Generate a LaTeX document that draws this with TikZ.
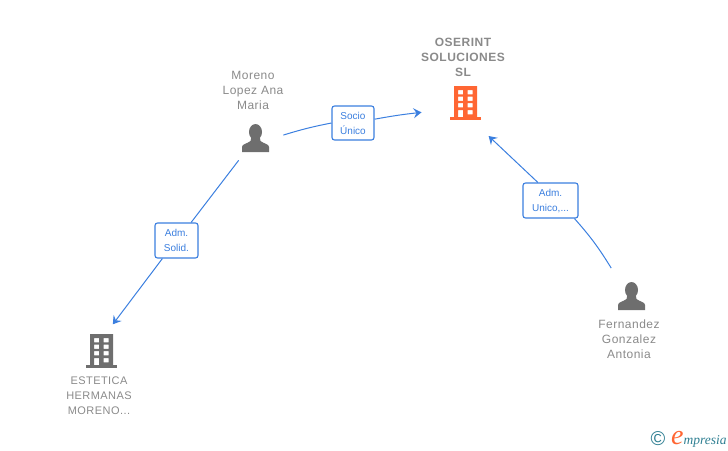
\documentclass[tikz,border=0pt]{standalone}
\usepackage{fontspec}
\setmainfont{Liberation Sans}
\newfontfamily\namefont[LetterSpace=4]{Liberation Sans}
\newfontfamily\logofont{Liberation Serif}
\usetikzlibrary{arrows.meta}
\definecolor{linkblue}{HTML}{3B7FDF}
\definecolor{nametext}{HTML}{8A8A8A}
\definecolor{icongrey}{HTML}{6E6E6E}
\definecolor{mainorange}{HTML}{FF6633}
\definecolor{logoteal}{HTML}{2F7F92}
\tikzset{
	iconbox/.style={circle,minimum size=#1,inner sep=0pt,outer sep=0pt},
	personname/.style={align=center,text=nametext,font=\namefont\fontsize{12}{15}\selectfont},
	firmname/.style={align=center,text=nametext,font=\namefont\fontsize{11}{15}\selectfont},
	mainname/.style={align=center,text=nametext,font=\namefont\bfseries\fontsize{12}{15}\selectfont},
	linkbox/.style={align=center,rectangle,rounded corners=2.5pt,draw=linkblue,line width=1.1pt,fill=white,text=linkblue,inner sep=0pt,font=\fontsize{10}{15}\selectfont},
	link/.style={draw=linkblue,line width=1pt},
	linkarrow/.style={link,-{Stealth[length=8pt,width=10pt,inset=3pt]}},
	personicon/.pic={
		\fill (0,-6) ellipse (6.5 and 8);
		\fill (-13.5,14) -- (-13.5,9) .. controls (-13.5,6) and (-8,5.5) .. (-5,3) -- (-4,-2) -- (4,-2) -- (5,3) .. controls (8,5.5) and (13.5,6) .. (13.5,9) -- (13.5,14) -- cycle;
	},
	buildingicon/.pic={
		\fill[even odd rule] (-11.5,-17) rectangle (11.5,15)
			(-7.5,-13) rectangle (-2.5,-8.7) (2,-13) rectangle (7,-8.7)
			(-7.5,-6.5) rectangle (-2.5,-2.2) (2,-6.5) rectangle (7,-2.2)
			(-7.5,0) rectangle (-2.5,4.3) (2,0) rectangle (7,4.3)
			(-7.5,7) rectangle (-2.5,15) (2,7) rectangle (7,11.3);
		\fill (-15.5,14.4) rectangle (15.5,17);
	}
}
\begin{document}
\begin{tikzpicture}[x=1pt,y=-1pt]
	\useasboundingbox (0,0) rectangle (728,450);
	% icons
	\node (morenoicon)[iconbox=56] at (255.5,138) {};
	\node (oserinticon)[rectangle,minimum width=88pt,minimum height=66pt,inner sep=0pt,outer sep=0pt] at (465.5,103) {};
	\node (esteticaicon)[iconbox=58] at (101.5,351) {};
	\node (fernandezicon)[iconbox=69] at (631.5,296) {};
	\pic[icongrey] at (morenoicon) {personicon};
	\pic[icongrey] at (fernandezicon) {personicon};
	\pic[mainorange] at (oserinticon) {buildingicon};
	\pic[icongrey] at (esteticaicon) {buildingicon};
	% names
	\node (morenoname)[personname] at (253,90) {Moreno\\Lopez Ana\\Maria};
	\node (oserintname)[mainname] at (463,57) {OSERINT\\SOLUCIONES\\SL};
	\node (esteticaname)[firmname] at (99,395.5) {ESTETICA\\HERMANAS\\MORENO...};
	\node (fernandezname)[personname] at (629,339) {Fernandez\\Gonzalez\\Antonia};
	% link labels
	\node (socio)[linkbox,minimum width=42pt,minimum height=34pt] at (353,123) {Socio\\Único};
	\node (solid)[linkbox,minimum width=43pt,minimum height=35pt] at (176.5,240.5) {Adm.\\Solid.};
	\node (unico)[linkbox,minimum width=55pt,minimum height=35pt] at (550.5,200.5) {Adm.\\\smash{Unico,...}};
	% connectors
	\draw[link] (morenoicon.6) to[bend left=3] (socio.west);
	\draw[linkarrow] (socio.10) to[bend left=2] (oserinticon.192);
	\draw[link] (morenoicon.233) -- (solid.51);
	\draw[linkarrow] (solid.232) -- (esteticaicon.67);
	\draw[link] (fernandezicon.126) to[bend right=5] (unico.-37);
	\draw[linkarrow] (unico.125) -- (oserinticon.-55.7);
	% logo
	\node (logoc)[text=logoteal,inner sep=0pt,font=\fontsize{20}{20}\selectfont] at (658,438.5) {©};
	\node (logotext)[text=logoteal,inner sep=0pt,anchor=base west,font=\logofont\itshape\fontsize{13.5}{14}\selectfont] at (671,444) {{\color{mainorange}\fontsize{28}{28}\selectfont e}mpresia};
\end{tikzpicture}
\end{document}
